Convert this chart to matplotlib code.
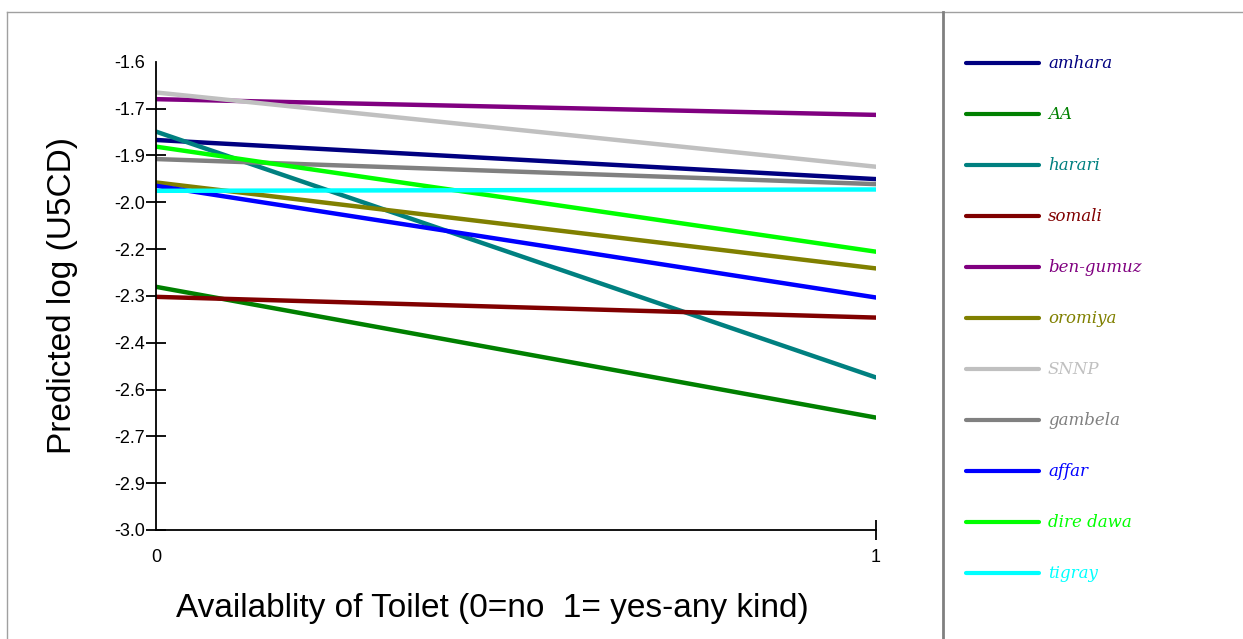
"""
Predicted log (U5CD) by availability of toilet, one line per region.
"""

import numpy as np
import matplotlib.pyplot as plt
from matplotlib.lines import Line2D


# Регионы и предсказанные значения при x=0 и x=1
regions = ['amhara', 'AA', 'harari', 'somali', 'ben-gumuz', 'oromiya',
           'SNNP', 'gambela', 'affar', 'dire dawa', 'tigray']
at_no = [-1.834, -2.273, -1.809, -2.303, -1.712, -1.961,
         -1.692, -1.891, -1.971, -1.854, -1.986]
at_yes = [-1.951, -2.664, -2.544, -2.365, -1.759, -2.218,
          -1.914, -1.966, -2.305, -2.168, -1.982]
colors = ['#000080', '#008000', '#008080', '#800000', '#800080', '#808000',
          '#c0c0c0', '#808080', '#0000ff', '#00ff00', '#00ffff']

x_vals = [0, 1]
y_ticks = np.linspace(-1.6, -3.0, 11)

fig = plt.figure(figsize=(12.43, 6.39), dpi=100)
ax = fig.add_axes([156 / 1243, 1 - 530 / 639, 720 / 1243, 468.3 / 639])

for name, y0, y1, c in zip(regions, at_no, at_yes, colors):
    ax.plot(x_vals, [y0, y1], color=c, lw=3.2, solid_capstyle='round')

ax.set_xlim(0, 1)
ax.set_ylim(-3.0, -1.6)
ax.set_xticks(x_vals)
ax.set_yticks(y_ticks)
ax.set_yticklabels(['{:.1f}'.format(v) for v in y_ticks])
ax.spines[['top', 'right']].set_visible(False)
for s in ['left', 'bottom']:
    ax.spines[s].set_linewidth(1.3)

ax.tick_params(axis='both', direction='inout', length=14, width=1.3,
               labelsize=13)
ax.tick_params(axis='y', pad=1)
ax.tick_params(axis='x', pad=7)
for t in ax.get_yticklabels() + ax.get_xticklabels():
    t.set_family('Liberation Sans')

# у -1.6 и у 0 засечек нет
ax.yaxis.get_major_ticks()[0].tick1line.set_visible(False)
ax.xaxis.get_major_ticks()[0].tick1line.set_visible(False)

ax.set_ylabel('Predicted log (U5CD)', fontsize=24, family='Liberation Sans')
ax.yaxis.set_label_coords(-0.108, 0.5)
ax.set_xlabel('Availablity of Toilet (0=no  1= yes-any kind)', fontsize=24,
              family='Liberation Sans')
ax.xaxis.set_label_coords(0.4667, -0.135)

# Легенда справа в отдельной панели
lax = fig.add_axes([0, 0, 1, 1], facecolor='none')
lax.set_xlim(0, 1243)
lax.set_ylim(639, 0)
lax.axis('off')
for i, (name, c) in enumerate(zip(regions, colors)):
    yy = 63.3 + 51 * i
    lax.plot([966, 1039], [yy, yy], color=c, lw=3, solid_capstyle='round')
    lax.text(1048, yy, name, color=c, fontsize=12, style='italic',
             family='DejaVu Serif', va='center', ha='left')

# Рамки
lax.add_line(Line2D([7, 1243], [12, 12], color='#a0a0a0', lw=1))
lax.add_line(Line2D([7, 7], [12, 639], color='#a0a0a0', lw=1))
lax.add_line(Line2D([943, 943], [12, 639], color='#808080', lw=2))

fig.savefig('out.png', dpi=100)
